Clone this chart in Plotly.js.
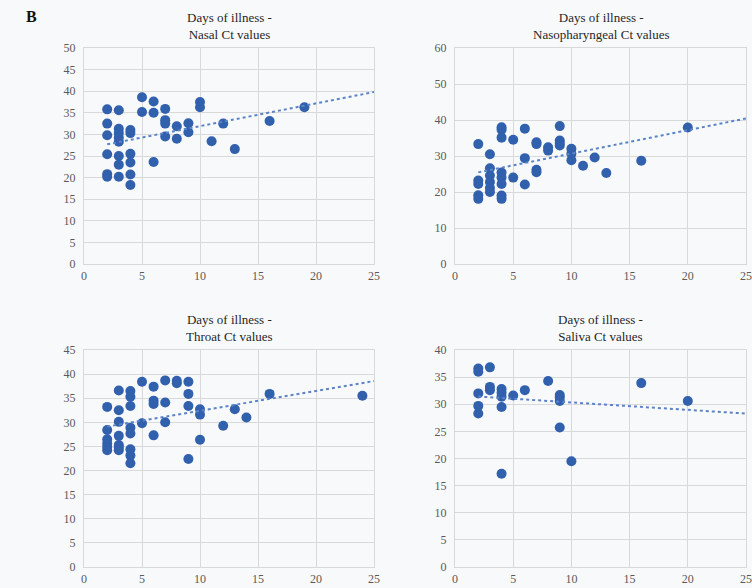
<!DOCTYPE html>
<html>
<head>
<meta charset="utf-8">
<script src="https://cdn.plot.ly/plotly-3.0.1.min.js"></script>
<style>
  html, body { margin: 0; padding: 0; background: #f8f9fb; }
  #chart { width: 752px; height: 588px; }
</style>
</head>
<body>
<div id="chart"></div>
<script>
// Days of illness vs Ct values, by specimen type
const nasalDays = [2,2,2,2,2,2, 3,3,3,3,3,3,3,3, 4,4,4,4,4,4, 5,5, 6,6,6, 7,7,7,7, 8,8, 9,9, 10,10, 11, 12, 13, 16, 19];
const nasalCt   = [35.8,32.5,29.8,25.4,20.8,20.2, 35.6,31.3,30.3,29.3,28.3,25.0,23.0,20.2, 31.0,30.3,25.5,23.5,20.7,18.3, 38.6,35.2, 37.6,35.0,23.6, 35.9,33.3,32.5,29.5, 31.9,29.0, 32.6,30.5, 37.5,36.3, 28.4, 32.5, 26.6, 33.1, 36.3];

const npDays = [2,2,2,2,2, 3,3,3,3,3,3, 4,4,4,4,4,4,4,4, 5,5, 6,6,6, 7,7,7,7, 8,8, 9,9,9,9, 10,10,10, 11, 12, 13, 16, 20];
const npCt   = [33.3,23.2,22.2,19.1,18.1, 30.5,26.6,24.6,22.8,21.1,20.0, 38.0,37.3,35.1,25.4,24.0,22.2,19.0,18.1, 34.5,24.0, 37.6,29.4,22.1, 33.8,33.3,26.2,25.5, 32.4,31.5, 38.3,34.3,33.6,32.9, 32.0,30.6,28.8, 27.3, 29.6, 25.3, 28.7, 37.9];

const throatDays = [2,2,2,2,2,2, 3,3,3,3,3,3,3, 4,4,4,4,4,4,4,4, 5,5, 6,6,6,6, 7,7,7, 8,8, 9,9,9,9, 10,10,10, 12, 13, 14, 16, 24];
const throatCt   = [33.2,28.4,26.5,25.6,24.9,24.2, 36.6,32.5,30.1,27.2,25.3,24.8,24.2, 36.5,35.3,33.4,28.9,27.7,24.4,23.1,21.5, 38.4,29.8, 37.4,34.5,33.8,27.3, 38.7,34.1,30.0, 38.6,38.1, 38.4,35.9,33.4,22.4, 32.7,31.6,26.4, 29.3, 32.7, 31.0, 35.9, 35.5];

const salivaDays = [2,2,2,2,2, 3,3,3, 4,4,4,4,4, 5, 6, 8, 9,9,9,9, 10, 16, 20];
const salivaCt   = [36.6,36.0,32.0,29.7,28.3, 36.8,33.2,32.6, 32.8,32.1,31.4,29.5,17.2, 31.6, 32.6, 34.3, 31.7,31.3,30.6,25.7, 19.5, 33.9, 30.6];

const panelTitles = [
  'Days of illness -<br>Nasal Ct values',
  'Days of illness -<br>Nasopharyngeal Ct values',
  'Days of illness -<br>Throat Ct values',
  'Days of illness -<br>Saliva Ct values'
];
const yMax  = [50, 60, 45, 40];
const yStep = [5, 10, 5, 5];
const xMax = 25;

const panels = [
  [nasalDays, nasalCt],
  [npDays, npCt],
  [throatDays, throatCt],
  [salivaDays, salivaCt]
];

// least-squares linear fit
function linFit(xs, ys) {
  const n = xs.length;
  let sx = 0, sy = 0, sxx = 0, sxy = 0;
  for (let i = 0; i < n; i++) { sx += xs[i]; sy += ys[i]; sxx += xs[i]*xs[i]; sxy += xs[i]*ys[i]; }
  const b = (n*sxy - sx*sy) / (n*sxx - sx*sx);
  const a = (sy - b*sx) / n;
  return [a, b];
}

const W = 752, H = 588;
const xDom = [[84/W, 374/W], [455/W, 746/W]];
const yDom = [[1-264/H, 1-48/H], [1-567/H, 1-350/H]];

const dotColor = '#3160ad';
const serif = '"Liberation Serif", "DejaVu Serif", serif';
const traces = [];
const layout = {
  width: W, height: H,
  margin: {l: 0, r: 0, t: 0, b: 0},
  paper_bgcolor: '#f8f9fb',
  plot_bgcolor: '#f8f9fb',
  showlegend: false,
  font: {family: serif, color: '#595959', size: 12},
  annotations: [],
  shapes: []
};

panels.forEach((p, i) => {
  const k = i + 1;
  const xa = k === 1 ? 'x' : 'x' + k;
  const ya = k === 1 ? 'y' : 'y' + k;
  const [xs, ys] = p;
  traces.push({
    type: 'scatter', mode: 'markers', x: xs, y: ys, xaxis: xa, yaxis: ya,
    marker: {color: dotColor, size: 10, line: {width: 0}},
    hoverinfo: 'x+y'
  });
  const [a, b] = linFit(xs, ys);
  const x0 = Math.min(...xs);
  traces.push({
    type: 'scatter', mode: 'lines', x: [x0, xMax], y: [a + b*x0, a + b*xMax],
    xaxis: xa, yaxis: ya,
    line: {color: '#5b84c8', width: 2, dash: 'dot'},
    hoverinfo: 'skip'
  });
  const col = i % 2, row = Math.floor(i / 2);
  const axisStyle = {
    showgrid: true, gridcolor: '#d9d9d9', gridwidth: 1,
    showline: true, linecolor: '#d9d9d9', linewidth: 1, mirror: true,
    zeroline: false, ticks: '', fixedrange: true,
    tickfont: {family: serif, size: 12, color: '#595959'}
  };
  layout[k === 1 ? 'xaxis' : 'xaxis' + k] = Object.assign({}, axisStyle, {
    domain: xDom[col], range: [0, xMax], dtick: 5, tick0: 0,
    anchor: ya, ticklabelstandoff: 1
  });
  layout[k === 1 ? 'yaxis' : 'yaxis' + k] = Object.assign({}, axisStyle, {
    domain: yDom[row], range: [0, yMax[i]], dtick: yStep[i], tick0: 0,
    anchor: xa, ticklabelstandoff: 5
  });
  layout.annotations.push({
    xref: 'paper', yref: 'paper',
    x: (xDom[col][0] + xDom[col][1]) / 2,
    y: yDom[row][1] + 4/H,
    xanchor: 'center', yanchor: 'bottom',
    text: panelTitles[i], showarrow: false,
    font: {family: serif, size: 13, color: '#262626'}
  });
});

layout.annotations.push({
  xref: 'paper', yref: 'paper', x: 24/W, y: 1 - 6/H,
  xanchor: 'left', yanchor: 'top', text: '<b>B</b>', showarrow: false,
  font: {family: serif, size: 16, color: '#111111'}
});

Plotly.newPlot('chart', traces, layout, {displayModeBar: false, staticPlot: true});
</script>
</body>
</html>
